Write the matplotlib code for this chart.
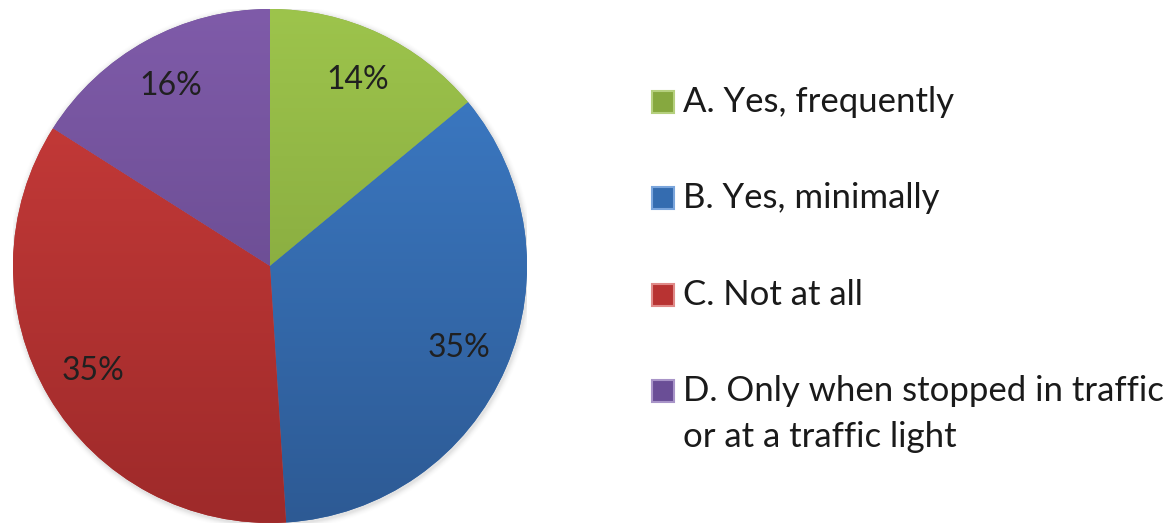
import numpy as np
import matplotlib
matplotlib.use("Agg")
import matplotlib.pyplot as plt
from matplotlib.patches import Rectangle, Circle
from matplotlib.colors import to_rgb

# Survey answers and their shares (%)
categories = ["A. Yes, frequently", "B. Yes, minimally", "C. Not at all",
              "D. Only when stopped in traffic\nor at a traffic light"]
shares = [14, 35, 35, 16]

# Slice shading: lighter at the top, darker at the bottom
top_colors = ["#9dc44c", "#3d7dc9", "#cc3d3b", "#7f5ba9"]
bottom_colors = ["#7a9a37", "#2d5a94", "#9e2a2a", "#5d4383"]
legend_face = ["#86a83f", "#346cb0", "#b83332", "#6a4e96"]
legend_edge = ["#b5d07e", "#7aa5dc", "#e08a88", "#a894c8"]

W, H, DPI = 1169, 527, 100
fig = plt.figure(figsize=(W / DPI, H / DPI), dpi=DPI)
fig.patch.set_facecolor("white")

cx, cy, r = 270, 266, 257
ax = fig.add_axes([(cx - r) / W, (H - cy - r) / H, 2 * r / W, 2 * r / H])
ax.set_xlim(-1.0, 1.0)
ax.set_ylim(-1.0, 1.0)
ax.axis("off")

# soft drop shadow around the disc
for k, a in enumerate(np.linspace(0.06, 0.015, 6)):
    ax.add_patch(Circle((0.004, -0.006), 1.0 + 0.004 * (k + 1),
                        facecolor="#808080", edgecolor="none", alpha=a, zorder=0))

wedges, texts, autotexts = ax.pie(
    shares, startangle=90, counterclock=False, radius=1.0,
    colors=legend_face, autopct=lambda p: f"{p:.0f}%", pctdistance=0.8,
    wedgeprops=dict(edgecolor="none", linewidth=0),
    textprops=dict(fontsize=23, color="#202020", family="Lato"),
)
ax.set_xlim(-1.0, 1.0)
ax.set_ylim(-1.0, 1.0)

ramp = np.linspace(0, 1, 256)[:, None]
for w, c0, c1 in zip(wedges, top_colors, bottom_colors):
    a0, a1 = np.array(to_rgb(c0)), np.array(to_rgb(c1))
    img = a0[None, None, :] * (1 - ramp[..., None]) + a1[None, None, :] * ramp[..., None]
    img = np.repeat(img, 2, axis=1)
    im = ax.imshow(img, extent=(-1, 1, -1, 1), origin="upper",
                   interpolation="bilinear", zorder=1.5, aspect="auto")
    im.set_clip_path(w)

for t in autotexts:
    t.set_zorder(3)

# legend drawn at the right
leg_x_box, leg_x_text = 652, 683
row_y = [102, 198, 295, 391]
box = 22
for lbl, y, fc, ec in zip(categories, row_y, legend_face, legend_edge):
    fig.patches.append(Rectangle(((leg_x_box) / W, (H - y - box / 2) / H), box / W, box / H,
                                 transform=fig.transFigure, facecolor=fc,
                                 edgecolor=ec, linewidth=1.5))
    lines = lbl.split("\n")
    for j, line in enumerate(lines):
        fig.text(leg_x_text / W, (H - y - 46 * j) / H, line, ha="left", va="center",
                 fontsize=25, color="#1a1a1a", family="Lato")

fig.savefig("out.png", dpi=DPI)
